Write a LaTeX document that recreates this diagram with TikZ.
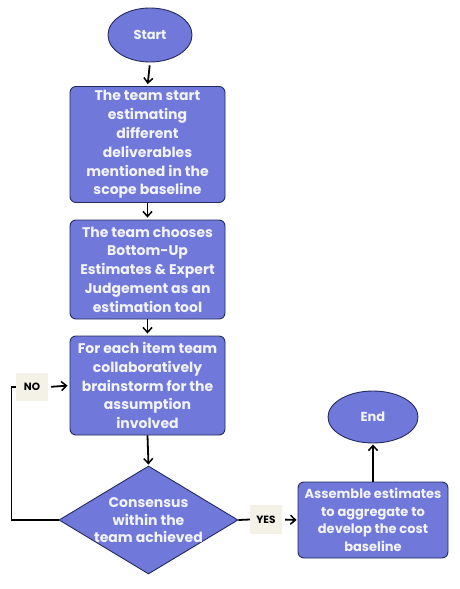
\documentclass[tikz,border=0pt]{standalone}
\usepackage{fontspec}
\setmainfont{Poppins}[BoldFont={Poppins Bold}]
\usetikzlibrary{shapes.geometric,arrows.meta}
\definecolor{boxfill}{HTML}{7079DA}
\definecolor{boxline}{HTML}{232B5C}
\definecolor{txt}{HTML}{F2F3FB}
\definecolor{tagbg}{HTML}{F4F1E7}
\begin{document}
\begin{tikzpicture}[x=1pt,y=-1pt,
  shapebase/.style={draw=boxline,line width=0.9pt,fill=boxfill,text=txt,font=\bfseries\fontsize{14}{18.8}\selectfont,align=center,inner sep=0pt},
  procbox/.style={shapebase,rectangle,rounded corners=6pt},
  terminal/.style={shapebase,ellipse,font=\bfseries\fontsize{13}{16}\selectfont},
  decision/.style={shapebase,diamond},
  dtext/.style={text=txt,font=\bfseries\fontsize{14}{17.5}\selectfont,align=center,inner sep=0pt},
  tag/.style={fill=tagbg,text=black,font=\bfseries\fontsize{10.5}{11}\selectfont,inner sep=0pt},
  flow/.style={line width=1.8pt,-{Straight Barb[length=5pt,width=9pt,line width=1.5pt]}},
  plain/.style={line width=1.8pt}]
\useasboundingbox[fill=white] (0,0) rectangle (460,589);
\node[terminal,minimum width=84pt,minimum height=54pt] (start) at (150,35) {Start};
\node[procbox,minimum width=155pt,minimum height=116pt] (b1) at (147.5,144.5) {The team start\\estimating\\different\\deliverables\\mentioned in the\\scope baseline};
\node[procbox,minimum width=155pt,minimum height=99pt] (b2) at (147.5,269.5) {The team chooses\\Bottom-Up\\Estimates \& Expert\\Judgement as an\\estimation tool};
\node[procbox,minimum width=155pt,minimum height=99pt] (b3) at (147.5,385.5) {For each item team\\collaboratively\\brainstorm for the\\assumption\\involved};
\node[decision,minimum width=179pt,minimum height=108pt] (dec) at (148.5,520) {};
\node[dtext] (dect) at (148.5,520.5) {Consensus\\within the\\team achieved};
\node[procbox,minimum width=150pt,minimum height=76pt,font=\bfseries\fontsize{13}{17.5}\selectfont] (b4) at (373,520) {Assemble estimates\\to aggregate to\\develop the cost\\baseline};
\node[terminal,minimum width=90pt,minimum height=52pt] (end) at (373,417) {End};
\node[tag,minimum width=32pt,minimum height=28pt] (no) at (32,387) {NO};
\node[tag,minimum width=32pt,minimum height=29pt] (yes) at (266,519.5) {YES};
\draw[flow,shorten <=3pt,shorten >=2pt] (start.south) -- (b1.north);
\draw[flow,shorten >=2pt] (b1.south) -- (b2.north);
\draw[flow,shorten >=2pt] (b2.south) -- (b3.north);
\draw[flow,shorten >=1pt] (b3.south) -- (dec.north);
\draw[plain] (dec.west) -- ++(-47,0) |- (no.west);
\draw[flow,shorten <=3pt,shorten >=2pt] (no.east) -- (b3.west);
\draw[plain] (dec.east) -- (yes.west);
\draw[flow,shorten <=3pt,shorten >=1pt] (yes.east) -- (b4.west);
\draw[flow,shorten >=1pt] (b4.north) -- (end.south);
\end{tikzpicture}
\end{document}
